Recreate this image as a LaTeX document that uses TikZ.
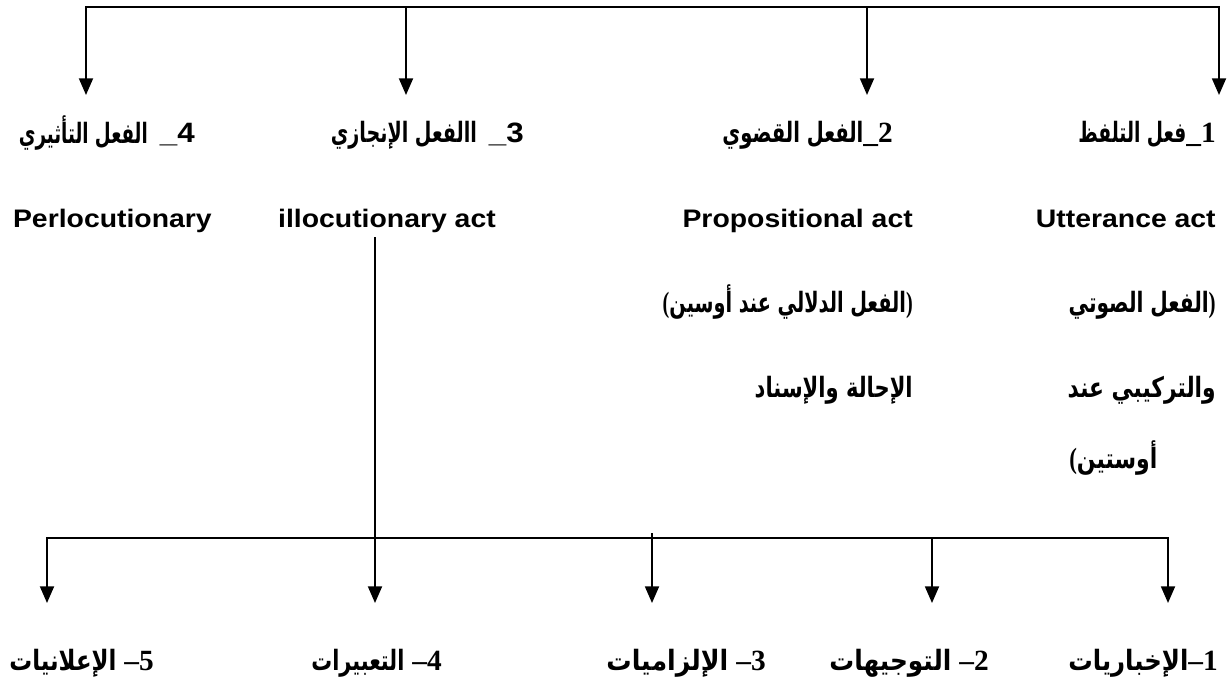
\documentclass[tikz,border=0pt]{standalone}
\usepackage{fontspec}
\usepackage{graphicx}
\usetikzlibrary{arrows.meta}
\TeXXeTstate=1
\newfontfamily\arb[Script=Arabic]{DejaVu Sans}
\newfontfamily\ensf[FakeStretch=1.12]{Liberation Sans}
\newfontfamily\tnr{Liberation Serif}
\newdimen\pxu \pxu=0.75pt
\newcommand\fitw[2]{\resizebox{#1\pxu}{\height}{#2}}
\newcommand\ar[1]{{\arb\bfseries\fontsize{21}{24}\selectfont\beginR#1\endR}}
\newcommand\tb[1]{{\tnr\bfseries\fontsize{22}{24}\selectfont#1}}
\newcommand\lsb[1]{{\ensf\bfseries\fontsize{19}{22}\selectfont#1}}
\newcommand\lsd[1]{{\ensf\bfseries\fontsize{21}{24}\selectfont#1}}
\tikzset{
  ln/.style={line width=1.4pt},
  arr/.style={line width=1.4pt,-{Triangle[length=12.5pt,width=10.5pt]}},
  arrtwo/.style={line width=1.4pt,{Triangle[length=12.5pt,width=10.5pt]}-{Triangle[length=12.5pt,width=10.5pt]}},
  lbl/.style={inner sep=0pt,anchor=base east},
  lbll/.style={inner sep=0pt,anchor=base west}
}
\begin{document}
\begin{tikzpicture}[x=0.75pt,y=-0.75pt]
\fill[white] (0,0) rectangle (1231,681);
\useasboundingbox (0,0) rectangle (1231,681);
% top branching
\coordinate (T4) at (86,7);
\coordinate (T3) at (406,7);
\coordinate (T2) at (867,7);
\coordinate (T1) at (1219,7);
\coordinate (A4) at (86,95);
\coordinate (A3) at (406,95);
\coordinate (A2) at (867,95);
\coordinate (A1) at (1219,95);
\draw[arrtwo] (A4) -- (T4) -- (T1) -- (A1);
\draw[arr] (T3) -- (A3);
\draw[arr] (T2) -- (A2);
% row 1
\node[lbl] (h1) at (1216,143) {\fitw{108}{\ar{فعل التلفظ}}\tb{\_1}};
\node[lbl] (h2) at (893,143) {\fitw{141}{\ar{الفعل القضوي}}\tb{\_2}};
\node[lbl] (h3) at (524,143) {\fitw{146}{\ar{االفعل الإنجازي}}\hspace{12\pxu}\lsd{\_3}};
\node[lbl] (h4) at (195,143) {\fitw{129}{\ar{الفعل التأثيري}}\hspace{12\pxu}\lsd{\_4}};
% row 2
\node[lbl] (e1) at (1216,227) {\lsb{Utterance act}};
\node[lbl] (e2) at (913,227) {\lsb{Propositional act}};
\node[lbl] (e3) at (496,227) {\lsb{illocutionary act}};
\node[lbl] (e4) at (212,227) {\lsb{Perlocutionary}};
% row 3
\node[lbl] (r1) at (1216,312) {\fitw{147}{\ar{الفعل الصوتي}\tb{)}}};
\node[lbl] (r2) at (913,312) {\fitw{250}{\tb{(}\ar{الفعل الدلالي عند أوسين}\tb{)}}};
% row 4
\node[lbl] (f1) at (1216,397) {\fitw{148}{\ar{والتركيبي عند}}};
\node[lbl] (f2) at (913,397) {\fitw{158}{\ar{الإحالة والإسناد}}};
% row 5
\node[lbll] (g1) at (1069,468) {\fitw{88}{\tb{(}\ar{أوستين}}};
% lower branching
\coordinate (V0) at (375,237);
\coordinate (B5) at (47,538);
\coordinate (B1) at (1168,538);
\coordinate (B2) at (932,538);
\coordinate (B3) at (652,533);
\coordinate (C5) at (47,603);
\coordinate (C4) at (375,603);
\coordinate (C3) at (652,603);
\coordinate (C2) at (932,603);
\coordinate (C1) at (1168,603);
\draw[arrtwo] (C5) -- (B5) -- (B1) -- (C1);
\draw[arr] (V0) -- (C4);
\draw[arr] (B3) -- (C3);
\draw[arr] (B2) -- (C2);
% bottom labels
\node[lbl] (k1) at (1218,670) {\fitw{120}{\ar{الإخباريات}}\tb{–1}};
\node[lbl] (k2) at (989,670) {\fitw{122}{\ar{التوجيهات}}\hspace{8\pxu}\tb{–2}};
\node[lbl] (k3) at (766,670) {\fitw{122}{\ar{الإلزاميات}}\hspace{8\pxu}\tb{–3}};
\node[lbl] (k4) at (442,670) {\fitw{93}{\ar{التعبيرات}}\hspace{8\pxu}\tb{–4}};
\node[lbl] (k5) at (154,670) {\fitw{107}{\ar{الإعلانيات}}\hspace{8\pxu}\tb{–5}};
\end{tikzpicture}
\end{document}
